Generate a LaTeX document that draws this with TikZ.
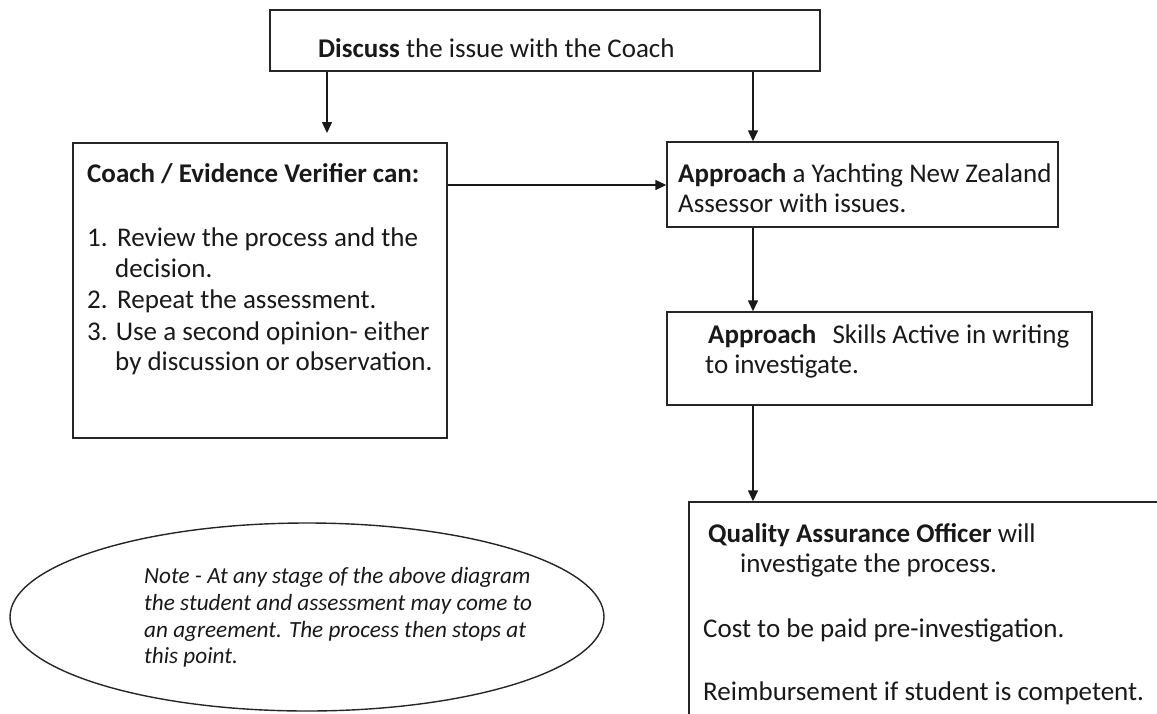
\documentclass[tikz,border=0pt]{standalone}
\usepackage{fontspec}
\setmainfont{Carlito}
\usetikzlibrary{arrows.meta,shapes.geometric}
\tikzset{
  box/.style={draw=black!85, line width=1.4pt, inner sep=0pt, fill=white},
  txt/.style={inner sep=0pt, anchor=base west, font=\fontsize{27}{30}\selectfont, text=black!90},
  notetxt/.style={inner sep=0pt, anchor=base west, font=\fontsize{23.2}{27}\selectfont\itshape, text=black!90},
  conn/.style={draw=black!90, line width=1.4pt, -{Triangle[length=11pt,width=10pt]}}
}
\begin{document}
\begin{tikzpicture}[x=1pt,y=-1pt]
\useasboundingbox (0,0) rectangle (1157,713);
\clip (0,0) rectangle (1157,713);
% boxes
\node[box, minimum width=550pt, minimum height=61pt] (top) at (545,40.5) {};
\node[box, minimum width=374pt, minimum height=295pt] (coach) at (260,290.5) {};
\node[box, minimum width=391pt, minimum height=85pt] (appr) at (862.5,184.5) {};
\node[box, minimum width=425pt, minimum height=93pt] (skills) at (879.5,358.5) {};
\node[box, minimum width=481pt, minimum height=240pt] (qao) at (929.5,622) {};
\node[draw=black!85, line width=1.4pt, ellipse, minimum width=594pt, minimum height=188pt, inner sep=0pt] (note) at (307,617) {};
% coordinates
\coordinate (c1) at (327,133);
\coordinate (xr) at (753,0);
\coordinate (yh) at (0,185);
% connectors
\draw[conn] (top.south -| c1) -- (c1);
\draw[conn] (top.south -| xr) -- (appr.north -| xr);
\draw[conn] (coach.east |- yh) -- (appr.west |- yh);
\draw[conn] (appr.south -| xr) -- (skills.north -| xr);
\draw[conn] (skills.south -| xr) -- (qao.north -| xr);
% texts
\node[txt] (t0) at (318,57) {\textbf{Discuss} the issue with the Coach};
\node[txt] (c0) at (87,182) {\textbf{Coach / Evidence Verifier can:}};
\node[txt] (c1t) at (87,246) {\makebox[30pt][l]{1.}Review the process and the};
\node[txt] (c2t) at (115,277) {decision.};
\node[txt] (c3t) at (87,308) {\makebox[30pt][l]{2.}Repeat the assessment.};
\node[txt] (c4t) at (87,340) {3. Use a second opinion- either};
\node[txt] (c5t) at (115,370) {by discussion or observation.};
\node[txt] (a1) at (678,182) {\textbf{Approach} a Yachting New Zealand};
\node[txt] (a2) at (678,212) {Assessor with issues.};
\node[txt] (s1) at (708,343) {\textbf{Approach}\hspace{10pt} Skills Active in writing};
\node[txt] (s2) at (705,373) {to investigate.};
\node[txt] (q1) at (708,542) {\textbf{Quality Assurance Officer} will};
\node[txt] (q2) at (740,572) {investigate the process.};
\node[txt] (q3) at (703,637) {Cost to be paid pre-investigation.};
\node[txt] (q4) at (703,700) {Reimbursement if student is competent.};
\node[notetxt] (n1) at (144,583) {Note - At any stage of the above diagram};
\node[notetxt] (n2) at (144,610) {the student and assessment may come to};
\node[notetxt] (n3) at (144,637) {an agreement. The process then stops at};
\node[notetxt] (n4) at (144,663) {this point.};
\end{tikzpicture}
\end{document}
